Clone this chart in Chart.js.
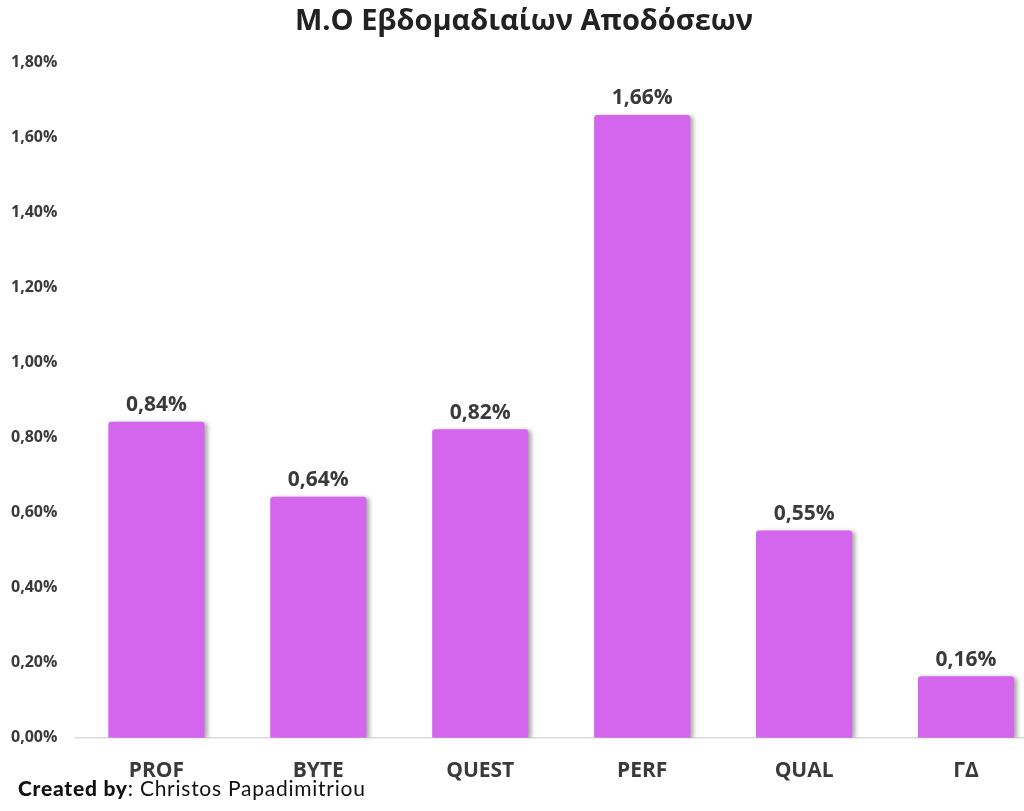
<!DOCTYPE html>
<html>
<head>
<meta charset="utf-8">
<script src="https://cdn.jsdelivr.net/npm/chart.js@4.4.0/dist/chart.umd.min.js"></script>
<style>
html,body{margin:0;padding:0;background:#fff;overflow:hidden;width:1024px;height:811px;}
#wrap{position:absolute;left:0;top:0;width:1048px;height:811px;}
#footer{position:absolute;left:18px;top:775px;font-family:"Lato","Open Sans",sans-serif;font-size:21px;color:#111;letter-spacing:0.75px;line-height:26px;}
#footer b{font-weight:900;}
</style>
</head>
<body>
<div id="wrap"><canvas id="c"></canvas></div>
<div id="footer"><b>Created by</b>: Christos Papadimitriou</div>
<script>
const categories = ["PROF", "BYTE", "QUEST", "PERF", "QUAL", "ΓΔ"];
const values = [0.843, 0.643, 0.823, 1.661, 0.553, 0.164];
const yTicks = [0, 0.2, 0.4, 0.6, 0.8, 1.0, 1.2, 1.4, 1.6, 1.8];
const titleText = "Μ.Ο Εβδομαδιαίων Αποδόσεων";

const fmt = v => v.toFixed(2).replace('.', ',') + '%';
const FONT = '"Open Sans", sans-serif';
const TXT = '#3a3a3a';

const shadowPlugin = {
  id: 'barShadow',
  beforeDatasetsDraw(chart) {
    const ctx = chart.ctx;
    ctx.save();
    ctx.shadowColor = 'rgba(0,0,0,0.35)';
    ctx.shadowBlur = 4;
    ctx.shadowOffsetX = 3;
    ctx.shadowOffsetY = 1;
  },
  afterDatasetsDraw(chart) {
    chart.ctx.restore();
  }
};

const labelPlugin = {
  id: 'valueLabels',
  afterDatasetsDraw(chart) {
    const ctx = chart.ctx;
    const meta = chart.getDatasetMeta(0);
    ctx.save();
    ctx.font = 'bold 21px ' + FONT;
    ctx.fillStyle = TXT;
    ctx.textAlign = 'center';
    ctx.textBaseline = 'bottom';
    meta.data.forEach((bar, i) => {
      ctx.fillText(fmt(chart.data.datasets[0].data[i]), bar.x, bar.y - 6);
    });
    ctx.restore();
  }
};

new Chart(document.getElementById('c'), {
  type: 'bar',
  data: {
    labels: categories,
    datasets: [{
      data: values,
      backgroundColor: '#D466EE',
      borderRadius: {topLeft: 3, topRight: 3, bottomLeft: 0, bottomRight: 0},
      borderSkipped: 'bottom',
      barPercentage: 0.594,
      categoryPercentage: 1.0
    }]
  },
  options: {
    responsive: true,
    maintainAspectRatio: false,
    animation: false,
    devicePixelRatio: 1,
    layout: {padding: {left: 1, right: 1, top: 0, bottom: 14}},
    plugins: {
      legend: {display: false},
      tooltip: {enabled: false},
      title: {
        display: true,
        text: titleText,
        color: '#222',
        font: {family: FONT, size: 29, weight: 'bold'},
        padding: {top: 4, bottom: 24}
      }
    },
    scales: {
      x: {
        grid: {display: false},
        border: {display: true, color: '#d9d9d9', width: 1.5},
        ticks: {color: TXT, font: {family: FONT, size: 21, weight: 'bold'}, padding: 13}
      },
      y: {
        min: 0, max: 1.8,
        afterBuildTicks(axis) { axis.ticks = yTicks.map(v => ({value: v})); },
        grid: {display: false},
        border: {display: false},
        ticks: {color: TXT, font: {family: FONT, size: 16, weight: 'bold'}, padding: 10,
          callback: v => fmt(v)}
      }
    }
  },
  plugins: [shadowPlugin, labelPlugin]
});
</script>
</body>
</html>
